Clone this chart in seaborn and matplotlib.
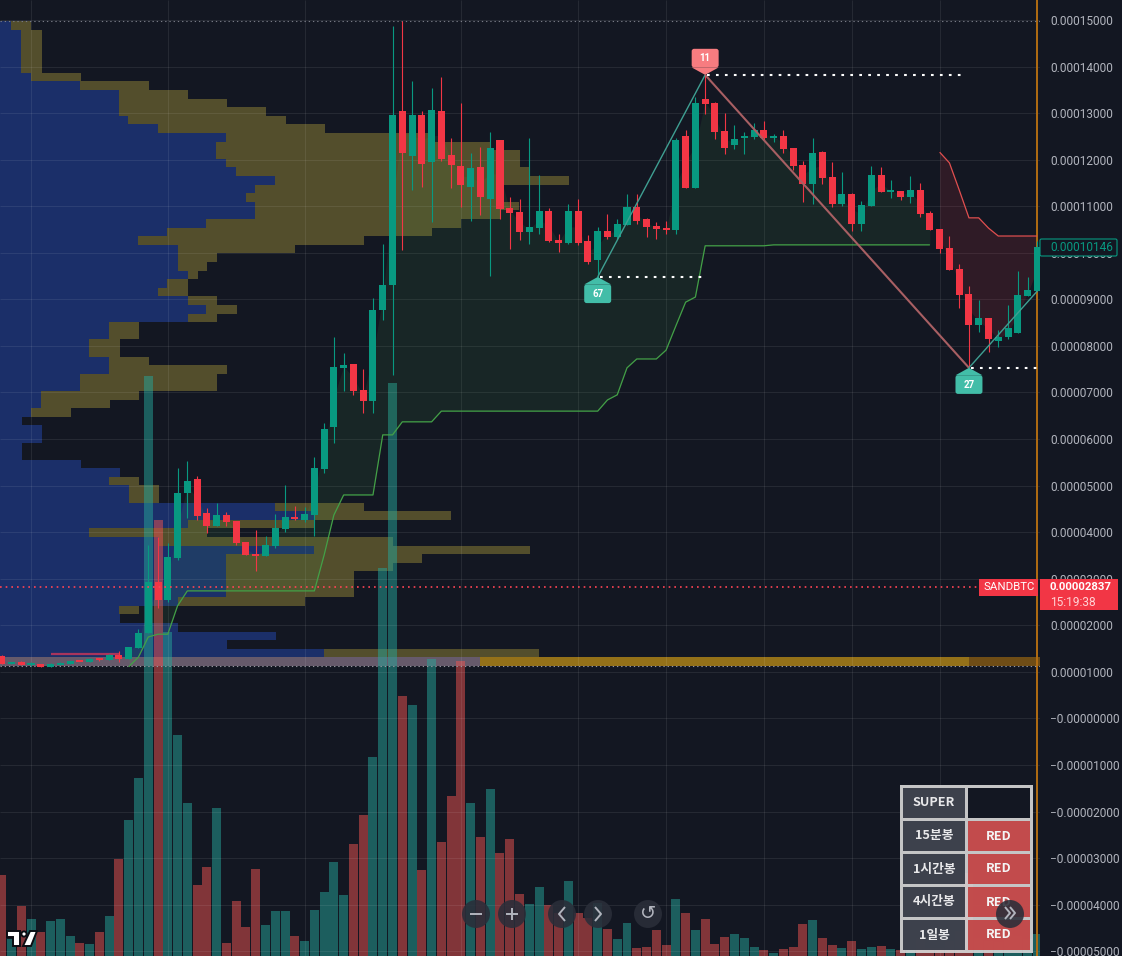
"""SANDBTC candles with volume, volume profile, supertrend and zigzag, on a dark chart."""

import matplotlib
matplotlib.use("Agg")
import matplotlib.pyplot as plt
from matplotlib.patches import Circle, FancyBboxPatch, Polygon, Rectangle
import numpy as np
import seaborn as sns

BG = "#131722"
UP = "#089981"
DOWN = "#f23645"
VOL_UP = "#26a69a"
VOL_DOWN = "#ef5350"
TICK = "#b2b5be"
BLUE = "#1b2f69"
OLIVE = "#534e2c"

# prices are in units of 0.00001 BTC
opens = [1.34, 1.17, 1.21, 1.15, 1.17, 1.11, 1.14, 1.17, 1.22, 1.21,
         1.28, 1.26, 1.36, 1.28, 1.51, 1.84, 2.93, 2.54, 3.45, 4.84,
         5.14, 4.41, 4.13, 4.37, 4.24, 3.79, 3.53, 3.49, 3.71, 4.07,
         4.33, 4.26, 4.37, 5.36, 6.26, 7.53, 7.61, 7.05, 6.82, 8.77,
         9.31, 13.05, 12.08, 12.96, 11.95, 13.05, 12.10, 11.86, 11.41, 11.84,
         11.16, 12.42, 10.96, 10.88, 10.45, 10.53, 10.90, 10.27, 10.21, 10.90,
         10.25, 9.85, 10.47, 10.34, 10.60, 10.98, 10.73, 10.58, 10.53, 10.49,
         12.51, 11.39, 13.30, 13.22, 12.61, 12.32, 12.47, 12.49, 12.64, 12.47,
         12.51, 12.25, 11.89, 11.48, 12.17, 11.63, 11.05, 11.26, 10.62, 11.00,
         11.67, 11.31, 11.33, 11.20, 11.35, 10.85, 10.51, 10.10, 9.65, 9.12,
         8.45, 8.60, 8.11, 8.19, 8.28, 9.07, 9.18]
highs = [1.36, 1.21, 1.23, 1.21, 1.17, 1.19, 1.21, 1.23, 1.22, 1.30,
         1.28, 1.39, 1.44, 1.53, 1.92, 3.73, 3.90, 3.77, 5.38, 5.53,
         5.21, 4.52, 4.63, 4.43, 4.24, 3.79, 4.05, 3.92, 4.39, 5.01,
         4.56, 4.54, 5.62, 6.34, 8.19, 7.85, 7.61, 7.50, 9.03, 10.19,
         14.87, 14.98, 13.69, 13.05, 13.54, 13.77, 12.47, 13.22, 12.14, 12.27,
         12.59, 12.42, 11.20, 11.16, 12.47, 11.67, 10.96, 10.40, 11.05, 11.16,
         10.38, 10.55, 10.83, 10.73, 11.26, 11.26, 10.75, 10.66, 10.68, 12.47,
         12.64, 13.35, 13.82, 13.24, 13.00, 12.74, 12.59, 12.79, 12.83, 12.55,
         12.64, 12.25, 11.97, 12.47, 12.19, 11.95, 11.74, 11.28, 11.11, 11.86,
         11.84, 11.56, 11.33, 11.65, 11.50, 10.90, 10.51, 10.36, 9.76, 9.29,
         8.99, 8.60, 8.34, 8.88, 9.61, 9.48, 10.25]
lows = [1.17, 1.17, 1.14, 1.13, 1.11, 1.10, 1.14, 1.17, 1.21, 1.21,
        1.23, 1.26, 1.21, 1.28, 1.51, 1.84, 2.37, 2.50, 3.40, 4.31,
        4.26, 3.98, 4.13, 4.13, 3.73, 3.51, 3.17, 3.49, 3.66, 4.01,
        4.26, 4.22, 3.92, 5.27, 5.92, 7.03, 6.95, 6.56, 6.57, 8.56,
        7.38, 10.06, 11.35, 11.41, 10.66, 11.97, 11.39, 10.98, 10.68, 10.81,
        9.50, 10.73, 10.08, 10.28, 10.19, 10.40, 10.23, 10.02, 10.19, 10.17,
        9.76, 9.46, 10.30, 10.30, 10.60, 10.62, 10.34, 10.30, 10.40, 10.40,
        11.39, 11.39, 12.98, 12.44, 12.12, 12.23, 12.12, 12.44, 12.42, 12.38,
        12.14, 11.78, 11.09, 11.05, 11.48, 10.98, 11.00, 10.47, 10.47, 11.00,
        11.31, 11.18, 11.13, 11.07, 10.77, 10.49, 10.00, 9.63, 8.81, 7.53,
        8.30, 7.87, 7.98, 8.15, 8.28, 9.07, 9.18]
closes = [1.17, 1.21, 1.14, 1.17, 1.11, 1.17, 1.19, 1.23, 1.21, 1.28,
          1.26, 1.36, 1.28, 1.53, 1.84, 2.93, 2.54, 3.47, 4.84, 5.10,
          4.35, 4.13, 4.37, 4.22, 3.77, 3.51, 3.49, 3.73, 4.09, 4.33,
          4.28, 4.39, 5.38, 6.22, 7.55, 7.59, 7.03, 6.82, 8.77, 9.31,
          12.96, 12.14, 12.96, 11.91, 13.07, 12.01, 11.89, 11.46, 11.82, 11.20,
          12.25, 10.94, 10.85, 10.45, 10.55, 10.90, 10.25, 10.21, 10.90, 10.21,
          9.80, 10.47, 10.34, 10.62, 10.98, 10.68, 10.55, 10.51, 10.49, 12.42,
          11.39, 13.22, 13.20, 12.59, 12.25, 12.44, 12.51, 12.64, 12.47, 12.51,
          12.23, 11.86, 11.48, 12.14, 11.61, 11.05, 11.26, 10.62, 11.03, 11.67,
          11.31, 11.33, 11.20, 11.35, 10.83, 10.49, 10.08, 9.63, 9.09, 8.45,
          8.60, 8.15, 8.19, 8.39, 9.09, 9.20, 10.12]
volumes = [81, 17, 50, 37, 24, 35, 37, 20, 13, 12,
           24, 40, 97, 136, 178, 580, 436, 324, 221, 153,
           71, 89, 148, 13, 55, 29, 87, 31, 45, 45,
           20, 15, 46, 64, 94, 61, 112, 141, 199, 388,
           573, 260, 251, 86, 297, 114, 160, 295, 153, 119,
           167, 103, 117, 62, 52, 69, 51, 43, 75, 43,
           38, 53, 27, 17, 33, 8, 9, 26, 11, 57,
           43, 26, 37, 12, 19, 22, 18, 9, 6, 3,
           7, 9, 32, 36, 18, 11, 8, 15, 7, 9,
           10, 7, 6, 8, 18, 8, 8, 15, 25, 83,
           18, 15, 14, 22, 20, 17, 22]

# supertrend, long leg starts at bar 13, short leg at bar 96
st_up_start = 13
st_up = [1.11, 1.32, 1.75, 1.81, 1.81, 2.42, 2.74,
         2.74, 2.74, 2.74, 2.74, 2.74, 2.74, 2.74, 2.74, 2.74, 2.74, 2.74, 2.74, 2.74,
         3.51, 4.37, 4.80, 4.80, 4.80, 4.80, 6.09, 6.09, 6.37, 6.37, 6.37, 6.37,
         6.60, 6.60, 6.60, 6.60, 6.60, 6.60, 6.60, 6.60, 6.60, 6.60, 6.60, 6.60,
         6.60, 6.60, 6.60, 6.60, 6.60,
         6.84, 6.95, 7.53, 7.72, 7.72, 7.72, 7.91, 8.43, 8.94, 9.05,
         10.15, 10.15, 10.15, 10.15, 10.15, 10.15, 10.15,
         10.17, 10.17, 10.17, 10.17, 10.17, 10.17, 10.17, 10.17, 10.17,
         10.17, 10.17, 10.17, 10.17, 10.17, 10.17, 10.17, 10.17]
st_down_start = 96
st_down = [12.16, 11.93, 11.35, 10.75, 10.75, 10.53, 10.36, 10.36, 10.36, 10.36, 10.36]

# zigzag pivots: bar, price
zz_bars = [61, 72, 99, 106]
zz_prices = [9.48, 13.82, 7.53, 9.18]
pivot_labels = ["67", "11", "27"]
pivot_ends = [72.0, 98.5, 106.3]

# volume profile rows, top to bottom, between these two prices
vp_high = 14.97
vp_low = 1.127
vp_buy = [11, 21, 21, 21, 21, 21, 31, 80, 119, 119,
          119, 128, 158, 226, 216, 216, 226, 236, 275, 255,
          246, 255, 255, 206, 167, 138, 178, 178, 178, 188,
          167, 158, 188, 206, 188, 109, 109, 89, 89, 109,
          109, 80, 80, 41, 41, 31, 22, 42, 42, 22,
          22, 81, 120, 109, 129, 129, 275, 314, 188, 89,
          159, 314, 226, 226, 226, 226, 226, 178, 119, 120,
          178, 276, 227, 324, 480]
vp_total = [31, 42, 42, 42, 42, 42, 81, 149, 188, 227,
            266, 286, 325, 435, 490, 520, 520, 530, 569, 499,
            499, 519, 500, 461, 432, 364, 295, 217, 207, 198,
            188, 188, 217, 237, 217, 139, 139, 120, 120, 149,
            227, 217, 217, 139, 110, 71, 22, 42, 42, 22,
            22, 81, 120, 139, 159, 159, 364, 451, 314, 207,
            393, 530, 422, 393, 354, 354, 354, 305, 139, 120,
            178, 276, 227, 539, 1040]
vp_last_edges = [480, 969, 1040]
vp_last_colors = ["#665a6b", "#947119", "#6f4d16"]
poc_bars = [5, 12]
poc_price = 1.39

grid_bars = [3, 17, 31, 47, 59, 68, 78, 87, 96]
y_ticks = [15, 14, 13, 12, 11, 10, 9, 8, 7, 6, 5, 4, 3, 2, 1, 0, -1, -2, -3, -4, -5]
y_labels = ["0.00015000", "0.00014000", "0.00013000", "0.00012000", "0.00011000",
            "0.00010000", "0.00009000", "0.00008000", "0.00007000", "0.00006000",
            "0.00005000", "0.00004000", "0.00003000", "0.00002000", "0.00001000",
            "\u22120.00000000", "\u22120.00001000", "\u22120.00002000", "\u22120.00003000",
            "\u22120.00004000", "\u22120.00005000"]

table_rows = ["SUPER", "15분봉", "1시간봉", "4시간봉", "1일봉"]
table_vals = ["", "RED", "RED", "RED", "RED"]

Y_TOP = 15.428
Y_BOTTOM = -5.10
X_LEFT = -0.174
X_RIGHT = 106.27
PLOT_W = 1040 / 1122

sns.set_theme(style="dark", rc={"axes.facecolor": BG, "figure.facecolor": BG})
plt.rcParams["font.family"] = ["Roboto", "Noto Sans CJK KR", "DejaVu Sans"]
plt.rcParams["lines.solid_capstyle"] = "butt"


def draw_profile(ax):
    edges = np.linspace(vp_high, vp_low, len(vp_total) + 1)
    centers = (edges[:-1] + edges[1:]) / 2
    row_h = abs(edges[1] - edges[0])
    sns.barplot(x=vp_total, y=centers, orient="y", native_scale=True, color=OLIVE, saturation=1,
                width=1, linewidth=0, errorbar=None, ax=ax)
    sns.barplot(x=vp_buy, y=centers, orient="y", native_scale=True, color=BLUE, saturation=1,
                width=1, linewidth=0, errorbar=None, ax=ax)
    left = 0
    for edge, color in zip(vp_last_edges, vp_last_colors):
        ax.barh(centers[-1], edge - left, left=left, height=row_h, color=color, linewidth=0, zorder=3)
        left = edge
    ax.set_xlim(0, 1040)
    ax.set_ylim(Y_BOTTOM, Y_TOP)
    ax.axis("off")
    ax.patch.set_visible(True)


def draw_volume(ax):
    bars = np.arange(len(volumes))
    side = np.where(np.array(closes) >= np.array(opens), "up", "down")
    sns.barplot(x=bars, y=volumes, hue=side, palette={"up": VOL_UP, "down": VOL_DOWN}, native_scale=True,
                dodge=False, width=0.92, saturation=1, linewidth=0, alpha=0.5, errorbar=None,
                legend=False, ax=ax)
    ax.set_xlim(X_LEFT, X_RIGHT)
    ax.set_ylim(0, 956)
    ax.axis("off")


def draw_candles(ax):
    bars = np.arange(len(opens))
    o, h, l, c = map(np.array, (opens, highs, lows, closes))
    colors = [UP if up else DOWN for up in c >= o]
    mids = (o + c) / 2

    up_bars = bars[st_up_start:st_up_start + len(st_up)]
    down_bars = bars[st_down_start:st_down_start + len(st_down)]
    ax.fill_between(up_bars, st_up, mids[up_bars], color="#4caf50", alpha=0.1, linewidth=0, zorder=1)
    ax.fill_between(down_bars, st_down, mids[down_bars], color=DOWN, alpha=0.13, linewidth=0, zorder=1)

    ax.axvline(106 - 0.04, color="#b26d12", linewidth=1.4, zorder=2)
    ax.vlines(bars, l, h, colors=colors, linewidth=0.8, zorder=4)
    ax.bar(bars, np.maximum(np.abs(c - o), 0.04), bottom=np.minimum(o, c), width=0.72,
           color=colors, linewidth=0, zorder=5)
    ax.hlines(poc_price, poc_bars[0], poc_bars[1], color="#a8345c", linewidth=1.6, zorder=3)

    sns.lineplot(x=up_bars, y=st_up, color="#43a047", linewidth=0.9, ax=ax, zorder=6, errorbar=None)
    sns.lineplot(x=down_bars, y=st_down, color="#e04f4f", linewidth=0.9, ax=ax, zorder=6, errorbar=None)


def pivot_tag(ax, bar, price, label, color, above):
    sign = 1 if above else -1
    gap, tall, half = 0.16, 0.40, 1.38
    near = price + sign * gap
    far = price + sign * (gap + tall)
    ax.fill([bar - half, bar, bar + half], [near, price, near], color=color, linewidth=0, zorder=9)
    ax.add_patch(FancyBboxPatch((bar - half, min(near, far)), 2 * half, tall,
                                boxstyle="round,pad=0,rounding_size=0.25", mutation_aspect=0.21,
                                facecolor=color, edgecolor="none", zorder=9))
    ax.text(bar, (near + far) / 2, label, color="white", fontsize=7, fontweight="bold",
            ha="center", va="center", zorder=10)


def draw_zigzag(ax):
    dots = (0, (1.3, 3.0))
    ax.plot(zz_bars[:2], zz_prices[:2], color="#3f9f92", linewidth=1.0, zorder=7)
    ax.plot(zz_bars[1:3], zz_prices[1:3], color="#a85f63", linewidth=1.5, zorder=7)
    ax.plot(zz_bars[2:], zz_prices[2:], color="#3f9f92", linewidth=1.0, zorder=7)
    for bar, price, end in zip(zz_bars, zz_prices, pivot_ends):
        ax.hlines(price, bar + 0.2, end, color="white", linewidth=1.5, linestyle=dots, zorder=8)
    pivot_tag(ax, zz_bars[0], zz_prices[0], pivot_labels[0], "#42bda8", False)
    pivot_tag(ax, zz_bars[1], zz_prices[1], pivot_labels[1], "#f77c80", True)
    pivot_tag(ax, zz_bars[2], zz_prices[2], pivot_labels[2], "#42bda8", False)


def style_price_axis(ax):
    ax.set_xlim(X_LEFT, X_RIGHT)
    ax.set_ylim(Y_BOTTOM, Y_TOP)
    ax.set_xticks(grid_bars)
    ax.set_xticklabels([])
    ax.set_yticks(y_ticks)
    ax.set_yticklabels(y_labels)
    ax.yaxis.tick_right()
    ax.tick_params(axis="both", length=0)
    ax.tick_params(axis="y", pad=7.2, labelsize=8.6, labelcolor=TICK)
    ax.set_xlabel("")
    ax.set_ylabel("")
    ax.grid(True, color="white", alpha=0.08, linewidth=0.8)
    ax.set_axisbelow(True)
    ax.patch.set_visible(False)
    for spine in ax.spines.values():
        spine.set_visible(False)
    # range lines and the last price
    ax.axhline(14.98, color="#787b86", linewidth=0.8, linestyle=(0, (1.2, 2.6)), zorder=3)
    ax.axhline(vp_low, color="#9598a1", linewidth=0.8, linestyle=(0, (1.2, 2.6)), zorder=3)
    ax.hlines(2.82, X_LEFT, 100.5, color="#ff4455", linewidth=1.2, linestyle=(0, (1.0, 2.4)), zorder=7)


def draw_table(ui):
    ui.add_patch(Rectangle((900, 785), 133, 168, facecolor="#d5d5d5", alpha=0.92, linewidth=0))
    col_left = [903, 968]
    col_w = 62
    for row, (name, val) in enumerate(zip(table_rows, table_vals)):
        top = 788 + 33 * row
        ui.add_patch(Rectangle((col_left[0], top), col_w, 30, facecolor="#363a45", alpha=0.95, linewidth=0))
        right = "#c24545" if val else BG
        ui.add_patch(Rectangle((col_left[1], top), col_w, 30, facecolor=right, alpha=0.95 if val else 1,
                               linewidth=0))
        ui.text(col_left[0] + col_w / 2, top + 15, name, color="#e8e8ea", fontsize=9.2, fontweight="bold",
                family=["Noto Sans CJK KR", "DejaVu Sans"], ha="center", va="center")
        ui.text(col_left[1] + col_w / 2, top + 15, val, color="#f4f4f4", fontsize=9.2, fontweight="bold",
                family=["Noto Sans CJK KR", "DejaVu Sans"], ha="center", va="center")


def draw_nav(ui):
    for x in [476, 512, 562, 598, 648, 1010]:
        ui.add_patch(Circle((x, 914), 14, facecolor="#2a2e39", edgecolor="none", alpha=0.88, zorder=5))
    ink = {"color": TICK, "linewidth": 1.4, "zorder": 6}
    ui.plot([470, 482], [914, 914], **ink)
    ui.plot([506, 518], [914, 914], **ink)
    ui.plot([512, 512], [908, 920], **ink)
    ui.plot([565, 559, 565], [907, 914, 921], **ink)
    ui.plot([595, 601, 595], [907, 914, 921], **ink)
    ui.text(648, 913, "\u21ba", color=TICK, fontsize=14, family="DejaVu Sans", ha="center", va="center", zorder=6)
    ui.plot([1005, 1010, 1005], [907, 913, 919], **ink)
    ui.plot([1010, 1015, 1010], [907, 913, 919], **ink)


def draw_logo(ui):
    style = {"facecolor": "white", "edgecolor": "#0b0d13", "linewidth": 1.4, "zorder": 6}
    ui.add_patch(Polygon([(7, 931), (20, 931), (20, 946), (13, 946), (13, 937), (7, 937)], **style))
    ui.add_patch(Circle((24, 934), 2.6, **style))
    ui.add_patch(Polygon([(30, 931), (37, 931), (31, 946), (23, 946)], **style))


def draw_price_tags(ui):
    ui.add_patch(FancyBboxPatch((1040, 239), 77, 17, boxstyle="round,pad=0,rounding_size=1.5",
                                facecolor=BG, edgecolor=UP, linewidth=0.8))
    ui.text(1050, 247.5, "0.00010146", color=UP, fontsize=8.6, va="center")
    ui.add_patch(Rectangle((979, 579), 59.5, 17, facecolor=DOWN, linewidth=0))
    ui.text(1008.7, 587.5, "SANDBTC", color="white", fontsize=8.2, ha="center", va="center")
    ui.add_patch(Rectangle((1040, 579), 78, 31, facecolor=DOWN, linewidth=0))
    ui.text(1050, 587.5, "0.00002837", color="white", fontsize=8.2, fontweight="bold", va="center")
    ui.text(1050, 602, "15:19:38", color="#ffd3d6", fontsize=8.6, va="center")


def main():
    fig = plt.figure(figsize=(11.22, 9.56), dpi=100, facecolor=BG)
    rect = [0, 0, PLOT_W, 1]
    ax_vp = fig.add_axes(rect, zorder=1)
    ax_vol = fig.add_axes(rect, zorder=2)
    ax = fig.add_axes(rect, zorder=3)
    ui = fig.add_axes([0, 0, 1, 1], zorder=4)

    draw_profile(ax_vp)
    draw_volume(ax_vol)
    draw_candles(ax)
    draw_zigzag(ax)
    style_price_axis(ax)

    ui.set_xlim(0, 1122)
    ui.set_ylim(956, 0)
    ui.axis("off")
    draw_table(ui)
    draw_nav(ui)
    draw_logo(ui)
    draw_price_tags(ui)

    fig.savefig("out.png", dpi=100, facecolor=BG)
    plt.close(fig)


if __name__ == "__main__":
    main()
